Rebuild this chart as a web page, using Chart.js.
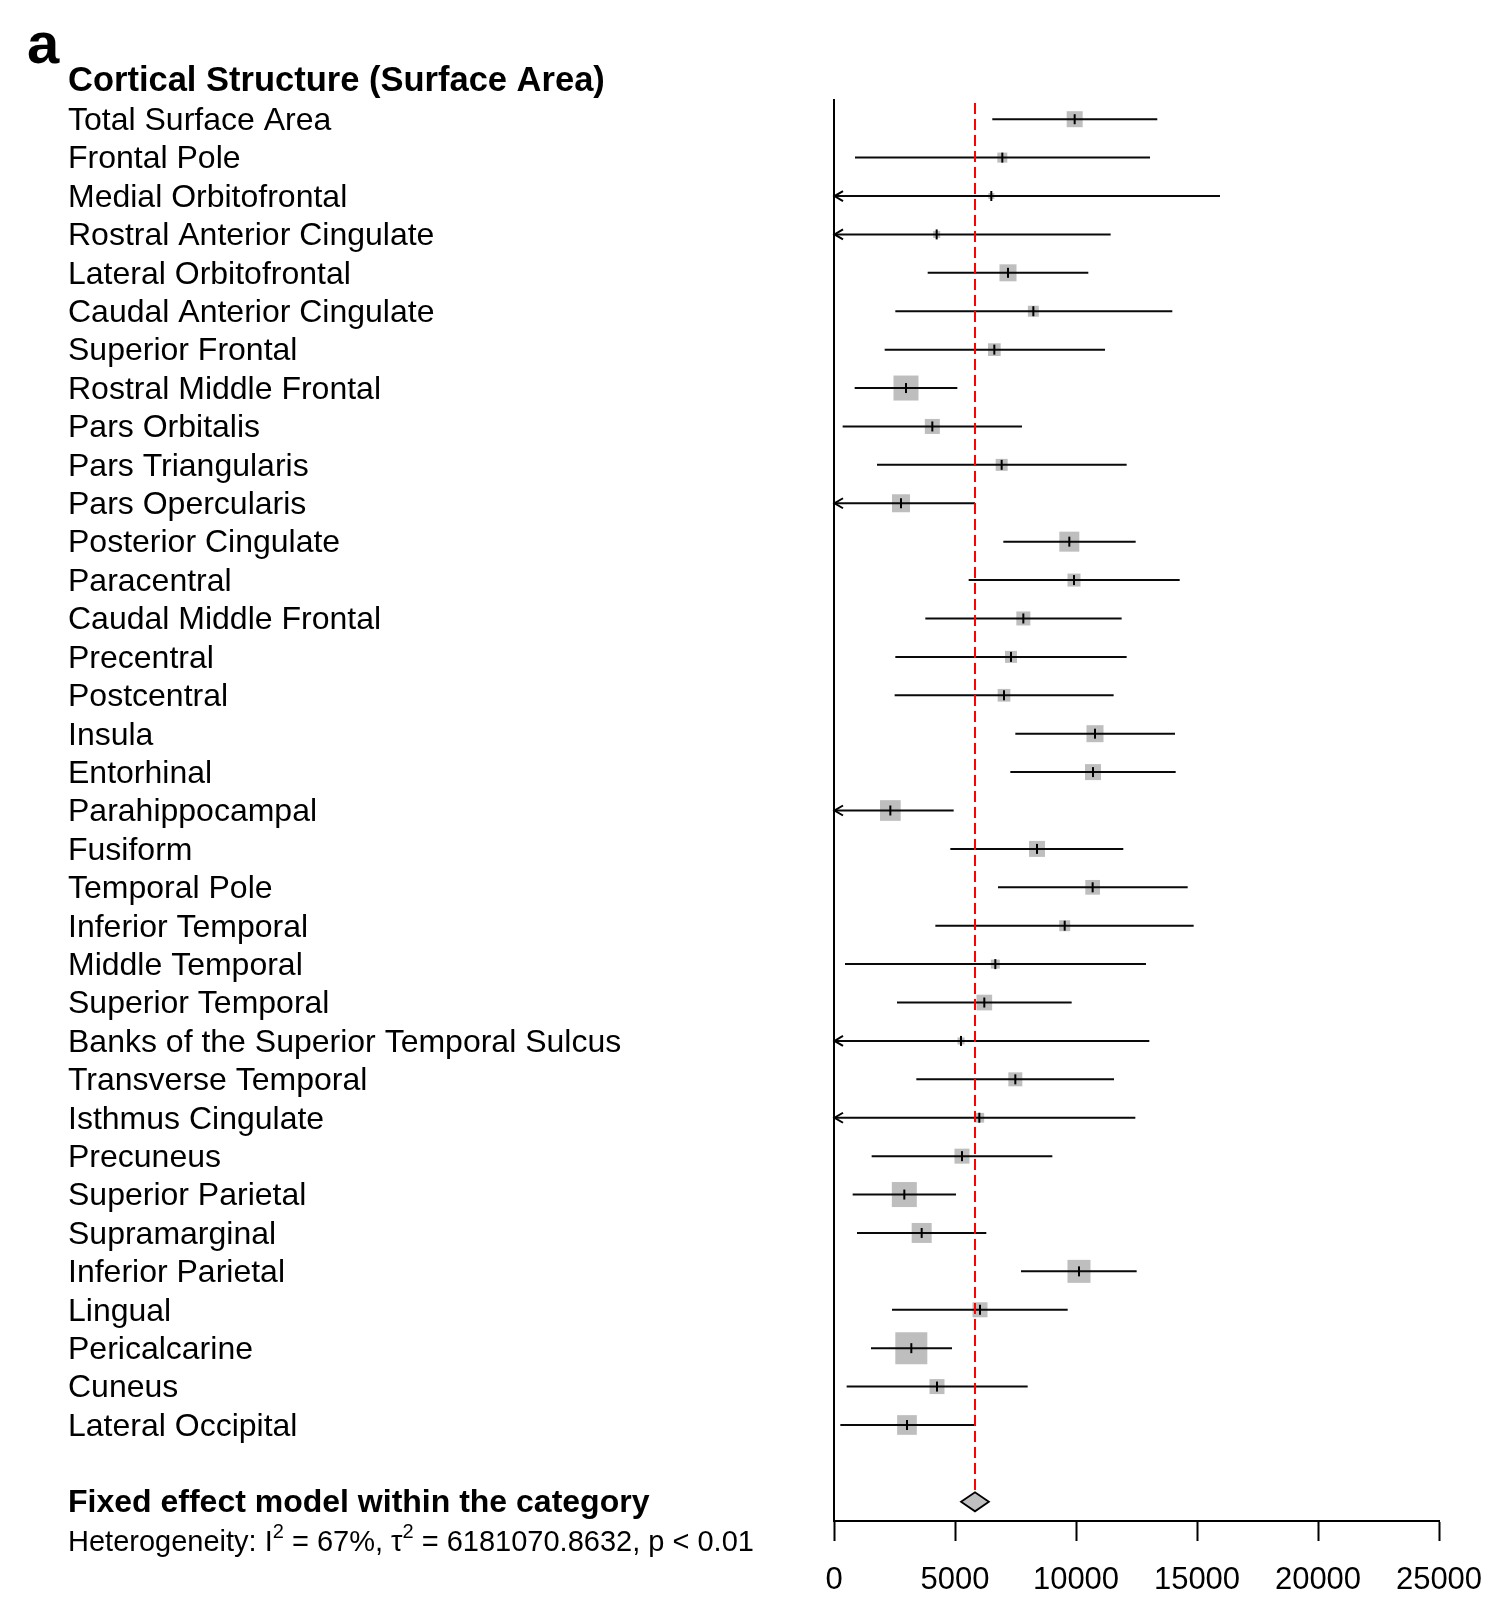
<!DOCTYPE html>
<html>
<head>
<meta charset="utf-8">
<title>Cortical Structure (Surface Area)</title>
<script src="https://cdn.jsdelivr.net/npm/chart.js@4/dist/chart.umd.min.js"></script>
<style>
  html, body { margin: 0; padding: 0; background: #fff; }
  canvas { display: block; }
</style>
</head>
<body>
<canvas id="forest" width="1489" height="1599"></canvas>
<script>
// Cortical regions, in plotting order (top to bottom)
const regions = [
  'Total Surface Area', 'Frontal Pole', 'Medial Orbitofrontal', 'Rostral Anterior Cingulate',
  'Lateral Orbitofrontal', 'Caudal Anterior Cingulate', 'Superior Frontal', 'Rostral Middle Frontal',
  'Pars Orbitalis', 'Pars Triangularis', 'Pars Opercularis', 'Posterior Cingulate', 'Paracentral',
  'Caudal Middle Frontal', 'Precentral', 'Postcentral', 'Insula', 'Entorhinal', 'Parahippocampal',
  'Fusiform', 'Temporal Pole', 'Inferior Temporal', 'Middle Temporal', 'Superior Temporal',
  'Banks of the Superior Temporal Sulcus', 'Transverse Temporal', 'Isthmus Cingulate', 'Precuneus',
  'Superior Parietal', 'Supramarginal', 'Inferior Parietal', 'Lingual', 'Pericalcarine', 'Cuneus',
  'Lateral Occipital'
];

// Effect estimates and 95% confidence limits
const estimates = [9945, 6955, 6500, 4243, 7190, 8237, 6625, 2975, 4063, 6928, 2768, 9724, 9917,
  7824, 7314, 7025, 10785, 10702, 2328, 8389, 10688, 9533, 6666, 6211, 5248, 7493, 6005, 5289,
  2906, 3623, 10123, 6033, 3195, 4256, 3016];
const lowerCI = [6541, 868, -2950, -2946, 3871, 2534, 2094, 854, 358, 1777, -290, 6997, 5565,
  3774, 2534, 2506, 7493, 7286, -289, 4807, 6776, 4188, 455, 2603, -2534, 3402, -442, 1556,
  771, 950, 7727, 2397, 1529, 523, 262];
const upperCI = [13359, 13058, 15950, 11432, 10509, 13980, 11198, 5096, 7768, 12093, 5826, 12466,
  14285, 11886, 12093, 11556, 14091, 14119, 4945, 11955, 14615, 14863, 12892, 9821, 13030, 11570,
  12452, 9022, 5041, 6294, 12507, 9656, 4876, 8003, 5798];

// Study weights (%) – box area is proportional to weight
const weights = [2.76, 1.08, 0.39, 0.53, 3.12, 1.30, 1.74, 6.74, 2.43, 1.55, 3.49, 4.31, 1.82,
  2.11, 1.55, 1.74, 3.12, 2.76, 4.62, 2.76, 2.33, 1.30, 0.87, 2.65, 0.53, 2.11, 1.01, 2.43,
  6.74, 4.31, 5.70, 2.43, 11.04, 2.43, 4.18];

// Pooled (fixed effect) estimate and its confidence limits
const pooled = { estimate: 5826, lower: 5250, upper: 6400 };

// Axis ticks
const xTicks = [0, 5000, 10000, 15000, 20000, 25000];

const headerTitle = 'Cortical Structure (Surface Area)';
const modelLabel = 'Fixed effect model within the category';
const panelLetter = 'a';
const heterogeneityParts = [
  { text: 'Heterogeneity: I', sup: false },
  { text: '2', sup: true },
  { text: ' = 67%, \u03C4', sup: false },
  { text: '2', sup: true },
  { text: ' = 6181070.8632, p < 0.01', sup: false }
];

// ---- derived layout of the rows ----
const FONT = '"Liberation Sans", Arial, Helvetica, sans-serif';
const TITLE_ROW = 0;
const MODEL_ROW = regions.length + 2;
const HET_ROW = regions.length + 3;
const MAX_BOX = 32;
const maxW = Math.max(...weights);

const rowOf = (i) => i + 1;
const boxRadius = (i) => (MAX_BOX * Math.sqrt(weights[i] / maxW) / 2) / Math.SQRT1_2;

const boxData = estimates.map((e, i) => ({ x: e, y: rowOf(i) }));
const tickData = estimates.map((e, i) => ({ x: e, y: rowOf(i) }));
const ciData = [];
regions.forEach((_, i) => {
  ciData.push({ x: lowerCI[i], y: rowOf(i) });
  ciData.push({ x: upperCI[i], y: rowOf(i) });
  ciData.push({ x: null, y: rowOf(i) });
});

// Arrowheads for intervals running past the left edge, the pooled
// reference line, the summary diamond and the header/footer text.
const forestExtras = {
  id: 'forestExtras',
  afterDatasetsDraw(chart) {
    const { ctx, chartArea, scales: { x, y } } = chart;
    ctx.save();
    // arrowheads
    ctx.strokeStyle = '#000';
    ctx.lineWidth = 2;
    regions.forEach((_, i) => {
      if (lowerCI[i] < x.min) {
        const px = x.getPixelForValue(x.min);
        const py = y.getPixelForValue(rowOf(i));
        ctx.beginPath();
        ctx.moveTo(px + 9, py - 5);
        ctx.lineTo(px + 0.5, py);
        ctx.lineTo(px + 9, py + 5);
        ctx.stroke();
      }
    });
    // reference line at pooled estimate
    const rx = x.getPixelForValue(pooled.estimate);
    const my = y.getPixelForValue(MODEL_ROW);
    const dh = 9.5;
    ctx.strokeStyle = '#ff0000';
    ctx.lineWidth = 2;
    ctx.setLineDash([11, 5]);
    ctx.beginPath();
    ctx.moveTo(rx, chartArea.top + 3);
    ctx.lineTo(rx, my - dh);
    ctx.stroke();
    ctx.setLineDash([]);
    // diamond
    ctx.beginPath();
    ctx.moveTo(x.getPixelForValue(pooled.lower), my);
    ctx.lineTo(rx, my - dh);
    ctx.lineTo(x.getPixelForValue(pooled.upper), my);
    ctx.lineTo(rx, my + dh);
    ctx.closePath();
    ctx.fillStyle = '#c0c0c0';
    ctx.fill();
    ctx.strokeStyle = '#000';
    ctx.lineWidth = 1.8;
    ctx.stroke();
    ctx.restore();
  },
  afterDraw(chart) {
    const { ctx, scales: { y } } = chart;
    const left = chart.options.layout.padding.left;
    ctx.save();
    ctx.fillStyle = '#000';
    ctx.textAlign = 'left';
    // panel letter
    ctx.textBaseline = 'alphabetic';
    ctx.font = 'bold 58px ' + FONT;
    ctx.fillText(panelLetter, 27, 63);
    // header and model label
    ctx.textBaseline = 'middle';
    ctx.font = 'bold 34.5px ' + FONT;
    ctx.fillText(headerTitle, left, y.getPixelForValue(TITLE_ROW) + 1);
    ctx.font = 'bold 32px ' + FONT;
    ctx.fillText(modelLabel, left, y.getPixelForValue(MODEL_ROW) + 1);
    // heterogeneity line with superscripts
    let cx = left;
    const hy = y.getPixelForValue(HET_ROW) + 3;
    heterogeneityParts.forEach((p) => {
      ctx.font = (p.sup ? '20px ' : '29px ') + FONT;
      ctx.fillText(p.text, cx, p.sup ? hy - 11 : hy);
      cx += ctx.measureText(p.text).width;
    });
    ctx.restore();
  }
};

new Chart(document.getElementById('forest'), {
  type: 'scatter',
  data: {
    datasets: [
      {
        label: 'weight boxes',
        data: boxData,
        order: 3,
        pointStyle: 'rect',
        backgroundColor: '#bebebe',
        borderWidth: 0,
        pointRadius: (ctx) => boxRadius(ctx.dataIndex),
        pointHoverRadius: (ctx) => boxRadius(ctx.dataIndex)
      },
      {
        type: 'line',
        label: 'confidence intervals',
        data: ciData,
        order: 2,
        showLine: true,
        spanGaps: false,
        borderColor: '#0a0a0a',
        borderWidth: 2,
        pointRadius: 0,
        pointHoverRadius: 0,
        fill: false
      },
      {
        label: 'estimates',
        data: tickData,
        order: 1,
        pointStyle: 'line',
        rotation: 90,
        pointRadius: 5,
        pointHoverRadius: 5,
        borderColor: '#000',
        borderWidth: 2
      }
    ]
  },
  options: {
    responsive: false,
    devicePixelRatio: 1,
    animation: false,
    events: [],
    layout: { padding: { left: 68, top: 100, right: 50, bottom: 0 } },
    plugins: { legend: { display: false }, tooltip: { enabled: false } },
    scales: {
      x: {
        type: 'linear',
        min: xTicks[0],
        max: xTicks[xTicks.length - 1],
        afterBuildTicks: (scale) => { scale.ticks = xTicks.map((v) => ({ value: v })); },
        afterFit: (scale) => {
          scale.height = 78;
          scale.paddingLeft = 0;
          scale.paddingRight = 0;
        },
        grid: { display: true, drawOnChartArea: false, drawTicks: true, tickLength: 20, tickWidth: 2, tickColor: '#000' },
        border: { display: true, color: '#000', width: 2 },
        ticks: {
          autoSkip: false,
          maxRotation: 0,
          padding: 21,
          color: '#000',
          font: { family: FONT, size: 31 },
          callback: (v) => String(v)
        }
      },
      y: {
        type: 'linear',
        reverse: true,
        min: 0.5,
        max: MODEL_ROW + 0.5,
        afterBuildTicks: (scale) => { scale.ticks = regions.map((_, i) => ({ value: rowOf(i) })); },
        afterFit: (scale) => { scale.width = 834 - 68; },
        grid: { display: false },
        border: { display: true, color: '#000', width: 2 },
        ticks: {
          autoSkip: false,
          crossAlign: 'far',
          labelOffset: 2,
          color: '#000',
          font: { family: FONT, size: 32 },
          callback: (v) => regions[v - 1]
        }
      }
    }
  },
  plugins: [forestExtras]
});
</script>
</body>
</html>
